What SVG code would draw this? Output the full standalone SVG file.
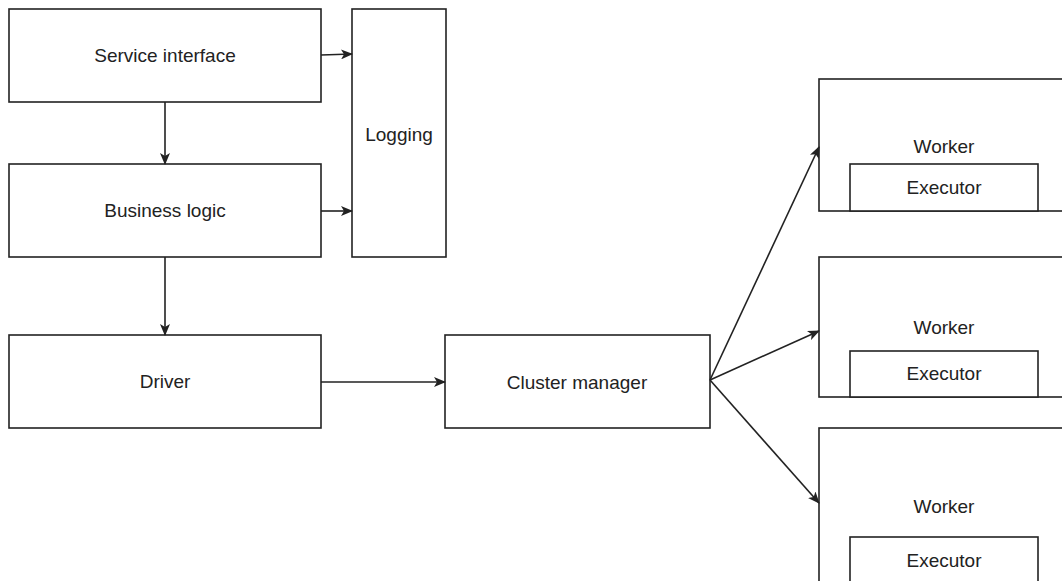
<svg xmlns="http://www.w3.org/2000/svg" width="1062" height="581" viewBox="0 0 1062 581">
<style>
.box{fill:#fff;stroke:#222;stroke-width:1.6}
.lbl{font-family:"Liberation Sans",Arial,sans-serif;font-size:19px;fill:#222;text-anchor:middle}
.edge{fill:none;stroke:#222;stroke-width:1.6}
</style>
<defs>
<marker id="arr" viewBox="0 0 12 10" refX="11" refY="5" markerWidth="12" markerHeight="10" markerUnits="userSpaceOnUse" orient="auto">
<path d="M0,0 L12,5 L0,10 L3,5 Z" fill="#222"/>
</marker>
</defs>
<rect width="1062" height="581" fill="#fff"/>
<g id="service-interface"><rect class="box" x="9" y="9" width="312" height="93"/><text class="lbl" x="165" y="62">Service interface</text></g>
<g id="logging"><rect class="box" x="352" y="9" width="94" height="248"/><text class="lbl" x="399" y="141">Logging</text></g>
<g id="business-logic"><rect class="box" x="9" y="164" width="312" height="93"/><text class="lbl" x="165" y="217">Business logic</text></g>
<g id="driver"><rect class="box" x="9" y="335" width="312" height="93"/><text class="lbl" x="165" y="388">Driver</text></g>
<g id="cluster-manager"><rect class="box" x="445" y="335" width="265" height="93"/><text class="lbl" x="577" y="389">Cluster manager</text></g>
<g id="worker1"><rect class="box" x="819" y="79" width="260" height="132"/><text class="lbl" x="944" y="153">Worker</text>
<g id="executor1"><rect class="box" x="850" y="164" width="188" height="47"/><text class="lbl" x="944" y="194">Executor</text></g></g>
<g id="worker2"><rect class="box" x="819" y="257" width="260" height="140"/><text class="lbl" x="944" y="334">Worker</text>
<g id="executor2"><rect class="box" x="850" y="351" width="188" height="46"/><text class="lbl" x="944" y="380">Executor</text></g></g>
<g id="worker3"><rect class="box" x="819" y="428" width="260" height="170"/><text class="lbl" x="944" y="513">Worker</text>
<g id="executor3"><rect class="box" x="850" y="537" width="188" height="60"/><text class="lbl" x="944" y="567">Executor</text></g></g>
<g id="connectors">
<path class="edge" d="M321,55 L352,54" marker-end="url(#arr)"/>
<path class="edge" d="M321,211 L352,211" marker-end="url(#arr)"/>
<path class="edge" d="M165,102 L165,164" marker-end="url(#arr)"/>
<path class="edge" d="M165,257 L165,335" marker-end="url(#arr)"/>
<path class="edge" d="M321,382 L445,382" marker-end="url(#arr)"/>
<path class="edge" d="M710,380 L819,147" marker-end="url(#arr)"/>
<path class="edge" d="M710,380 L819,331" marker-end="url(#arr)"/>
<path class="edge" d="M710,380 L819,503" marker-end="url(#arr)"/>
</g>
</svg>
